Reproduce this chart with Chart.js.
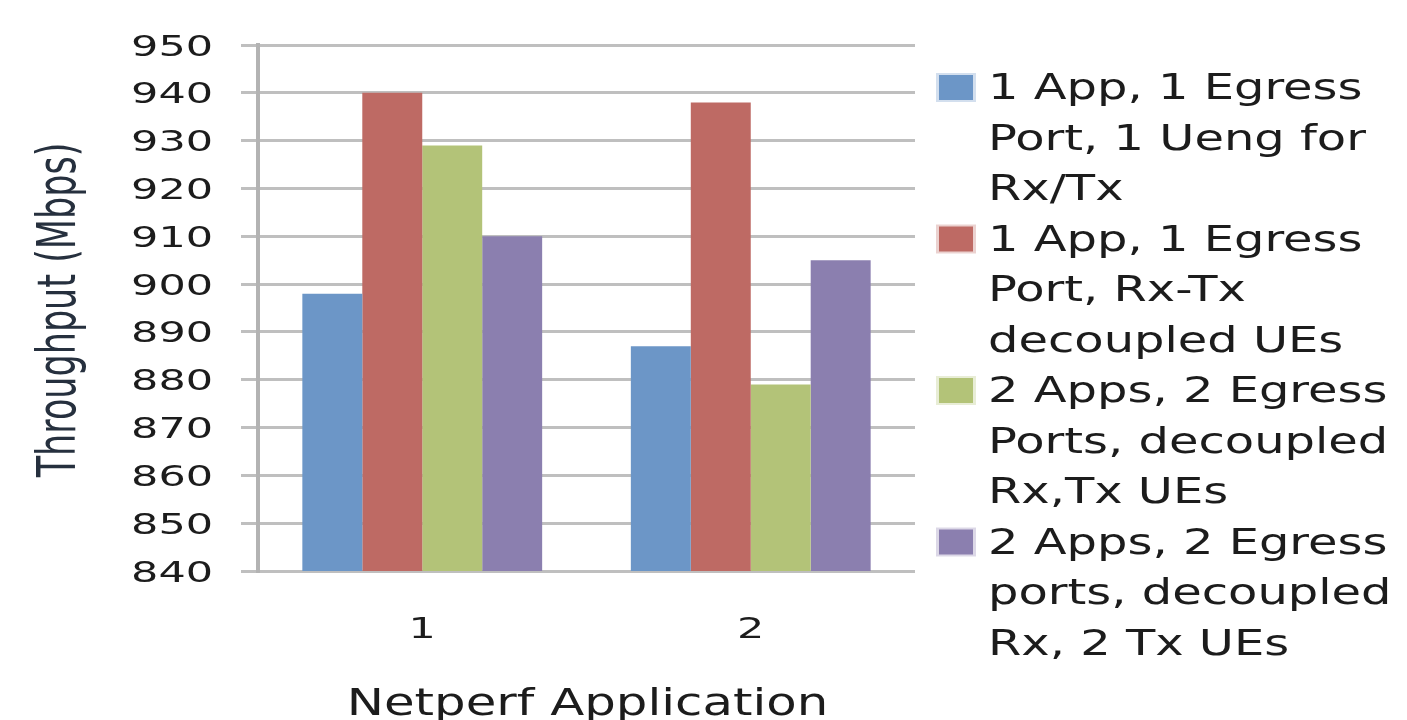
<!DOCTYPE html>
<html>
<head>
<meta charset="utf-8">
<title>Netperf throughput</title>
<script src="https://cdn.jsdelivr.net/npm/chart.js@4.4.0/dist/chart.umd.min.js"></script>
<style>
  html, body { margin: 0; padding: 0; background: #fff; }
  #wrap { width: 1407px; height: 720px; position: relative; }
</style>
</head>
<body>
<div id="wrap"><canvas id="chart"></canvas></div>
<script>
// categories on the x axis
const categories = ['1', '2'];

// legend text, one entry per series, already split in lines like the original
const seriesNames = [
    ['1 App, 1 Egress', 'Port, 1 Ueng for', 'Rx/Tx'],
    ['1 App, 1 Egress', 'Port, Rx-Tx', 'decoupled UEs'],
    ['2 Apps, 2 Egress', 'Ports, decoupled', 'Rx,Tx UEs'],
    ['2 Apps, 2 Egress', 'ports, decoupled', 'Rx, 2 Tx UEs']
];

// throughput values (Mbps)
const oneAppOneUeng = [898, 887];
const oneAppDecoupled = [940, 938];
const twoAppsDecoupled = [929, 879];
const twoAppsTwoTx = [910, 905];

const yMin = 840;
const yMax = 950;
const yStep = 10;

const yTitle = 'Throughput (Mbps)';
const xTitle = 'Netperf Application';

const seriesColors = ['#6c96c7', '#be6a64', '#b3c378', '#8b7faf'];
const textColor = '#1c1c1c';

Chart.defaults.font.family = '"DejaVu Sans", sans-serif';

const seriesValues = [oneAppOneUeng, oneAppDecoupled, twoAppsDecoupled, twoAppsTwoTx];
const data = {
    labels: categories,
    datasets: seriesValues.map((vals, i) => ({
        label: seriesNames[i].join(' '),
        data: vals,
        backgroundColor: seriesColors[i],
        borderWidth: 0
    }))
};

// text in the source picture is stretched sideways, so draw it scaled on x
function wideText(ctx, text, x, y, sx, align) {
    ctx.save();
    ctx.translate(x, y);
    ctx.scale(sx, 1);
    ctx.textAlign = align;
    ctx.fillText(text, 0, 0);
    ctx.restore();
}

const textLayer = {
    id: 'textLayer',
    afterDraw(chart) {
        const { ctx, chartArea: { left, right, top, bottom }, scales: { x, y } } = chart;
        ctx.save();
        ctx.fillStyle = textColor;
        ctx.textBaseline = 'alphabetic';

        // y tick labels
        ctx.font = '29px "DejaVu Sans"';
        y.ticks.forEach((t, i) => {
            wideText(ctx, String(t.value), 213, y.getPixelForTick(i) + 10.5, 1.48, 'right');
        });

        // x tick labels
        categories.forEach((c, i) => {
            wideText(ctx, c, x.getPixelForTick(i), bottom + 67, 1.48, 'center');
        });

        // x title
        ctx.font = '38px "DejaVu Sans"';
        wideText(ctx, xTitle, (left + right) / 2 + 1, 715, 1.31, 'center');

        // y title, rotated (sideways stretch becomes glyph height here)
        ctx.save();
        ctx.translate(75, (top + bottom) / 2 + 2);
        ctx.rotate(-Math.PI / 2);
        ctx.scale(1, 1.5);
        ctx.font = '35px "DejaVu Sans"';
        ctx.textAlign = 'center';
        ctx.fillStyle = '#26303e';
        ctx.fillText(yTitle, 0, 0);
        ctx.restore();

        // legend
        ctx.font = '35px "DejaVu Sans"';
        let line = 0;
        seriesNames.forEach((lines, k) => {
            const base = 99 + line * 50.5;
            ctx.globalAlpha = 0.3;
            ctx.fillStyle = seriesColors[k];
            ctx.fillRect(936, base - 26, 40, 29);
            ctx.globalAlpha = 1;
            ctx.fillRect(939, base - 24, 34, 25);
            ctx.fillStyle = textColor;
            lines.forEach((txt) => {
                wideText(ctx, txt, 988, 99 + line * 50.5, 1.37, 'left');
                line++;
            });
        });
        ctx.restore();
    }
};

const config = {
    type: 'bar',
    data,
    options: {
        responsive: true,
        maintainAspectRatio: false,
        animation: false,
        layout: {
            padding: { left: 0, top: 45, right: 492, bottom: 0 }
        },
        datasets: {
            bar: { categoryPercentage: 0.73, barPercentage: 1.0 }
        },
        plugins: {
            legend: { display: false },
            tooltip: { enabled: false }
        },
        scales: {
            x: {
                grid: { display: false },
                border: { display: false },
                ticks: { display: false },
                afterFit(scale) { scale.height = 149; }
            },
            y: {
                min: yMin,
                max: yMax,
                ticks: { stepSize: yStep, display: false },
                grid: { color: '#bfbfbf', lineWidth: 3, tickLength: 17, drawTicks: true },
                border: { color: '#b3b3b3', width: 4 },
                afterFit(scale) { scale.width = 258; }
            }
        }
    },
    plugins: [textLayer]
};

var chart = document.getElementById('chart');
var myChart = new Chart(chart, config);
</script>
</body>
</html>
